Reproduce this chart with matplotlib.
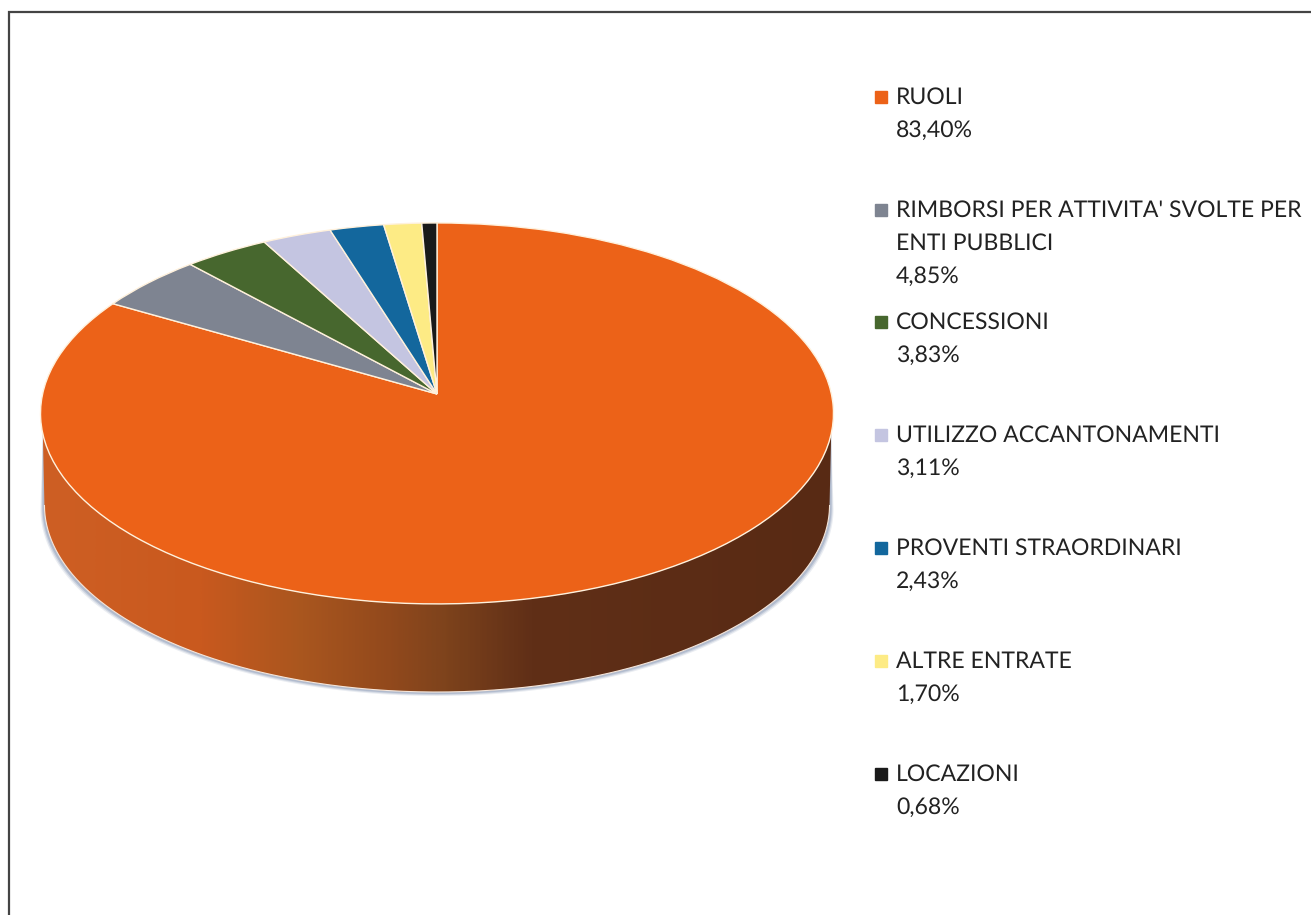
import matplotlib
matplotlib.use("Agg")
import matplotlib.pyplot as plt
import numpy as np
from matplotlib.colors import LinearSegmentedColormap
from matplotlib.patches import Polygon
from matplotlib.transforms import Transform

plt.rcParams['font.family'] = ['Lato', 'DejaVu Sans']
plt.rcParams['text.hinting'] = 'no_hinting'
plt.rcParams['text.hinting_factor'] = 1

# legend entries, in the order of the slices (clockwise from 12 o'clock)
labels = ["RUOLI",
          "RIMBORSI PER ATTIVITA' SVOLTE PER\nENTI PUBBLICI",
          "CONCESSIONI",
          "UTILIZZO ACCANTONAMENTI",
          "PROVENTI STRAORDINARI",
          "ALTRE ENTRATE",
          "LOCAZIONI"]
values = [83.40, 4.85, 3.83, 3.11, 2.43, 1.70, 0.68]
colors = ['#EC6218', '#7E8491', '#47672E', '#C4C5E1', '#13679D', '#FDEB85', '#1A1A1A']

W, H = 1311, 915
TILT = 0.102        # perspective of the disc


class Tilted(Transform):
    """Unit circle -> disc seen in perspective, in pixel coordinates."""
    input_dims = output_dims = 2

    def __init__(self, x0, y0, a, b):
        super().__init__()
        self.x0, self.y0, self.a, self.b = x0, y0, a, b

    def transform_non_affine(self, xy):
        xy = np.asarray(xy, dtype=float)
        w = 1 + TILT * xy[:, 1]
        return np.column_stack((self.x0 + self.a * xy[:, 0] / w,
                                self.y0 - self.b * xy[:, 1] / w))


top = Tilted(437, 394, 394.4, 188.5)
bottom = Tilted(437, 486, 390.5, 185.0)

fig = plt.figure(figsize=(W / 100, H / 100), dpi=100, facecolor='white')
ax = fig.add_axes([0, 0, 1, 1])

wedges, _ = ax.pie(values, colors=colors, startangle=90, counterclock=False,
                   wedgeprops={'edgecolor': '#FFF1DC', 'linewidth': 1.0, 'zorder': 5})
for wedge in wedges:
    wedge.set_transform(top + ax.transData)

ax.set_aspect('auto')
ax.set_xlim(0, W)
ax.set_ylim(H, 0)
ax.axis('off')

# side wall of the disc
t = np.linspace(0, 2 * np.pi, 721)
circle = np.column_stack((np.cos(t), np.sin(t)))
top_pts = top.transform_non_affine(circle)
bot_pts = bottom.transform_non_affine(circle)
top_front = top_pts[top_pts[:, 1] >= 434]
top_front = top_front[np.argsort(top_front[:, 0])]
bot_front = bot_pts[bot_pts[:, 1] >= 505]
bot_front = bot_front[np.argsort(bot_front[:, 0])]
wall = np.vstack((top_front, bot_front[::-1]))

# soft shadow just under the wall
for grow, alpha in [(4, 0.18), (3, 0.3), (2, 0.45)]:
    shadow = bot_front + [0, grow]
    shadow[:, 0] = 437 + (shadow[:, 0] - 437) * (1 + grow / 392)
    ax.add_patch(Polygon(np.vstack((top_front, shadow[::-1])), closed=True,
                         facecolor='#8E9DB8', edgecolor='none', alpha=alpha, zorder=1))

side_cmap = LinearSegmentedColormap.from_list('side', [
    (0.00, '#CE5F24'), (0.20, '#C9591E'), (0.33, '#A9561F'), (0.44, '#92491C'),
    (0.51, '#7E431C'), (0.62, '#602F17'), (1.00, '#582A14')])
im = ax.imshow(np.linspace(0, 1, 400).reshape(1, -1), cmap=side_cmap, aspect='auto',
               extent=(40, 833, 700, 420), zorder=2)
im.set_clip_path(Polygon(wall, closed=True, transform=ax.transData))
ax.set_xlim(0, W)
ax.set_ylim(H, 0)
ax.plot(bot_front[:, 0], bot_front[:, 1], color='#F6E6DA', lw=0.8, zorder=3)

# legend, written by hand because the gaps are not regular
first_lines = [104, 217, 329, 442, 555, 668, 781]
step = 32.7
for label, value, color, base in zip(labels, values, colors, first_lines):
    ax.plot([881], [base - 7.5], marker='s', ms=8.2, color=color, mec=color, ls='none', zorder=6)
    lines = label.split('\n') + [f"{value:.2f}%".replace('.', ',')]
    for i, line in enumerate(lines):
        ax.text(896, base + i * step, line, fontsize=16.3, color='#222222', va='baseline', ha='left')

# scanned frame: only the left and top sides show
ax.plot([8.5, 8.5, W], [H, 12, 12], color='#444444', lw=1.6, zorder=7, solid_joinstyle='miter')

fig.savefig('out.png', dpi=100)
